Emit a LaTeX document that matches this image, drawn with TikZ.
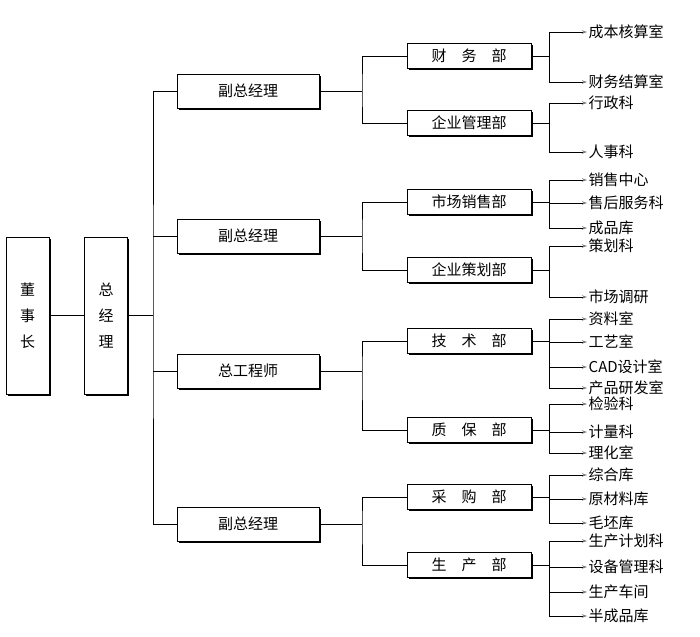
\documentclass[tikz,border=0pt]{standalone}
\usepackage{fontspec}
\setmainfont{Noto Sans CJK SC}
\usetikzlibrary{arrows.meta,shadows}
\tikzset{
  box/.style={draw, line width=0.9pt, fill=white, inner sep=0pt,
    drop shadow={shadow xshift=1.8pt, shadow yshift=-1.8pt, fill=black, opacity=1},
    font=\fontsize{15}{26}\selectfont},
  tall/.style={box, minimum width=43pt, minimum height=157pt, align=center},
  mgr/.style={box, minimum width=142pt, minimum height=34pt},
  dept/.style={box, minimum width=124pt, minimum height=25pt},
  leaf/.style={anchor=west, inner xsep=1.5pt, inner ysep=0pt, font=\fontsize{15}{16}\selectfont},
  link/.style={line width=0.9pt},
  arr/.style={link, -{Stealth[length=5pt, width=3.5pt, color=gray]}}
}
\newcommand{\gapsp}{\hspace{1em}}
\begin{document}
\begin{tikzpicture}[x=1pt, y=-1pt]
\useasboundingbox (0,0) rectangle (700,636);
% level 0/1
\node[tall] (dsz) at (27.5,315.5) {董\\事\\长};
\node[tall] (zjl) at (106,315.5) {总\\经\\理};
% level 2
\node[mgr] (m1) at (248,91) {副总经理};
\node[mgr] (m2) at (248,236) {副总经理};
\node[mgr] (m3) at (248,371) {总工程师};
\node[mgr] (m4) at (248,524) {副总经理};
% level 3
\node[dept] (d1) at (469,56) {财\gapsp 务\gapsp 部};
\node[dept] (d2) at (469,123) {企业管理部};
\node[dept] (d3) at (469,202) {市场销售部};
\node[dept] (d4) at (469,270) {企业策划部};
\node[dept] (d5) at (469,341) {技\gapsp 术\gapsp 部};
\node[dept] (d6) at (469,430) {质\gapsp 保\gapsp 部};
\node[dept] (d7) at (469,497) {采\gapsp 购\gapsp 部};
\node[dept] (d8) at (469,565) {生\gapsp 产\gapsp 部};
% leaves
\node[leaf] (l11) at (587,32) {成本核算室};
\node[leaf] (l12) at (587,82) {财务结算室};
\node[leaf] (l21) at (587,103) {行政科};
\node[leaf] (l22) at (587,152) {人事科};
\node[leaf] (l31) at (587,180) {销售中心};
\node[leaf] (l32) at (587,203) {售后服务科};
\node[leaf] (l33) at (587,228) {成品库};
\node[leaf] (l41) at (587,246) {策划科};
\node[leaf] (l42) at (587,297) {市场调研};
\node[leaf] (l51) at (587,319) {资料室};
\node[leaf] (l52) at (587,342) {工艺室};
\node[leaf] (l53) at (587,367) {CAD设计室};
\node[leaf] (l54) at (587,388) {产品研发室};
\node[leaf] (l61) at (587,404) {检验科};
\node[leaf] (l62) at (587,432) {计量科};
\node[leaf] (l63) at (587,453) {理化室};
\node[leaf] (l71) at (587,475) {综合库};
\node[leaf] (l72) at (587,499) {原材料库};
\node[leaf] (l73) at (587,523) {毛坯库};
\node[leaf] (l81) at (587,541) {生产计划科};
\node[leaf] (l82) at (587,567) {设备管理科};
\node[leaf] (l83) at (587,592) {生产车间};
\node[leaf] (l84) at (587,616) {半成品库};
% bus points
\coordinate (b0) at (153,315.5);
\coordinate (bm1) at (362,91);
\coordinate (bm2) at (362,236);
\coordinate (bm3) at (362,371);
\coordinate (bm4) at (362,524);
\foreach \i/\y in {1/56,2/123,3/202,4/270,5/341,6/430,7/497,8/565}
  \coordinate (br\i) at (549,\y);
% connectors
\draw[link] (dsz) -- (zjl);
\draw[link] (zjl) -- (b0);
\draw[link] (m1.west) -| (b0) |- (m4.west);
\draw[link] (m2.west) -- (m2.west -| b0);
\draw[link] (m3.west) -- (m3.west -| b0);
\draw[link] (m1.east) ++(1.8,0) -- (bm1);
\draw[link] (m2.east) ++(1.8,0) -- (bm2);
\draw[link] (m3.east) ++(1.8,0) -- (bm3);
\draw[link] (m4.east) ++(1.8,0) -- (bm4);
\draw[link] (d1.west) -| (bm1) |- (d2.west);
\draw[link] (d3.west) -| (bm2) |- (d4.west);
\draw[link] (d5.west) -| (bm3) |- (d6.west);
\draw[link] (d7.west) -| (bm4) |- (d8.west);
\foreach \i in {1,...,8}
  \draw[link] (d\i.east) ++(1.8,0) -- (br\i);
\foreach \i/\j in {1/1,1/2,2/1,2/2,3/1,3/2,3/3,4/1,4/2,5/1,5/2,5/3,5/4,6/1,6/2,6/3,7/1,7/2,7/3,8/1,8/2,8/3,8/4}
  \draw[arr] (br\i) |- (l\i\j.west);
\end{tikzpicture}
\end{document}
